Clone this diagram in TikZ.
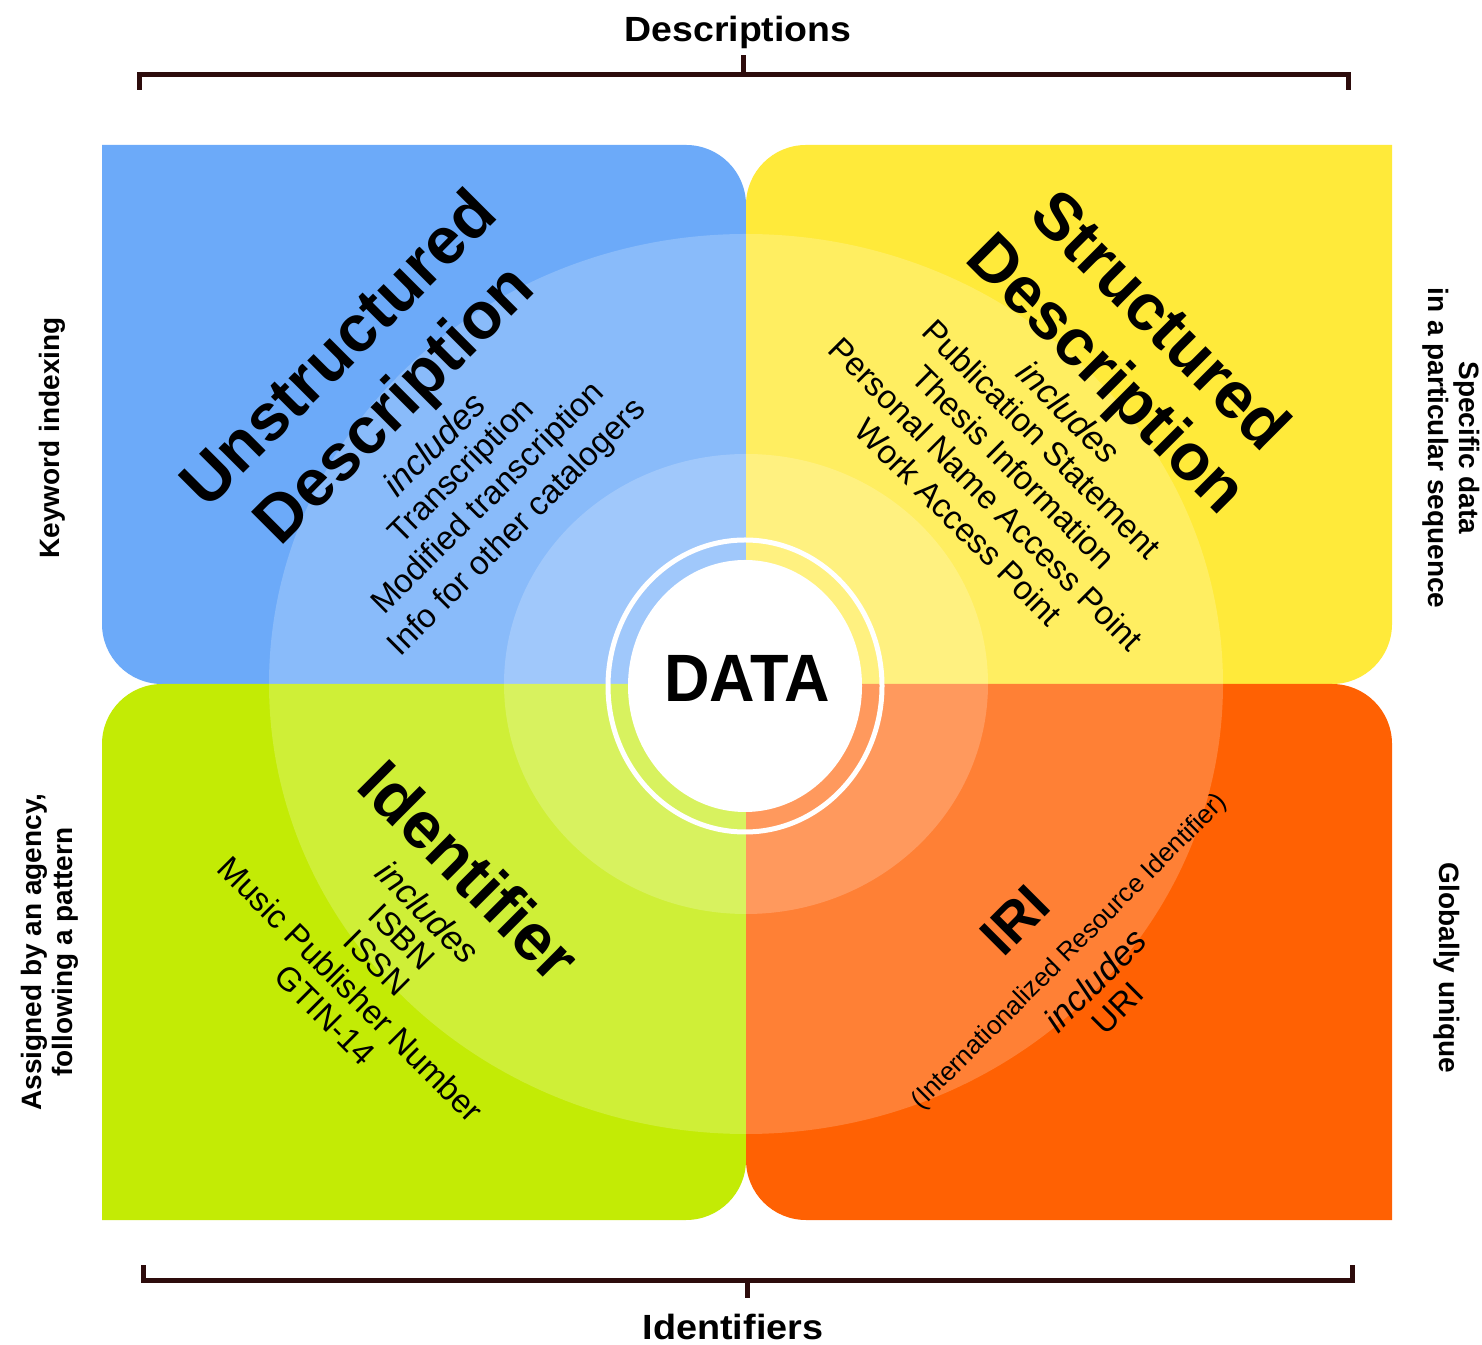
\documentclass[tikz,border=0pt]{standalone}
\usepackage{fontspec}
\setmainfont{Liberation Sans}
\definecolor{qblue}{RGB}{108,170,249}
\definecolor{qyellow}{RGB}{255,234,58}
\definecolor{qgreen}{RGB}{195,235,5}
\definecolor{qorange}{RGB}{255,97,3}
\definecolor{brk}{RGB}{45,12,12}
\tikzset{
  hdr/.style={font=\fontsize{66}{70}\selectfont\bfseries, inner sep=0pt},
  irihdr/.style={font=\fontsize{55}{60}\selectfont\bfseries, inner sep=0pt},
  itm/.style={font=\fontsize{33}{36}\selectfont, inner sep=0pt},
  smallitm/.style={font=\fontsize{26}{28}\selectfont, inner sep=0pt},
  inc/.style={font=\fontsize{35}{38}\selectfont\itshape, inner sep=0pt},
  side/.style={font=\fontsize{28}{31}\selectfont\bfseries, align=center, inner sep=0pt},
  brace/.style={line width=5pt, draw=brk},
  title/.style={font=\fontsize{35}{38}\selectfont\bfseries, inner sep=0pt, anchor=base},
  overlay/.style={fill=white, fill opacity=0.2},
}
\begin{document}
\begin{tikzpicture}[x=1pt,y=1pt]
\useasboundingbox (0,0) rectangle (1482,1344);
\fill[white] (0,0) rectangle (1482,1344);

% quadrants
\fill[qblue] (102,1199) -- (686,1199) arc[start angle=90,end angle=0,radius=60] -- (746,660) -- (162,660) arc[start angle=270,end angle=180,radius=60] -- cycle;
\fill[qyellow] (1392,1199) -- (1392,720) arc[start angle=0,end angle=-90,radius=60] -- (746,660) -- (746,1139) arc[start angle=180,end angle=90,radius=60] -- cycle;
\fill[qgreen] (102,124) -- (686,124) arc[start angle=-90,end angle=0,radius=60] -- (746,660) -- (162,660) arc[start angle=90,end angle=180,radius=60] -- cycle;
\fill[qorange] (1392,124) -- (1392,600) arc[start angle=0,end angle=90,radius=60] -- (746,660) -- (746,184) arc[start angle=180,end angle=270,radius=60] -- cycle;

% translucent rings
\fill[overlay] (746,660) ellipse [x radius=477, y radius=450];
\fill[overlay] (746,660) ellipse [x radius=242, y radius=230];

% centre
\draw[white, line width=5pt] (745,658) ellipse [x radius=137, y radius=146];
\fill[white] (745,658) ellipse [x radius=117, y radius=126];
\node[font=\fontsize{67}{70}\selectfont\bfseries, inner sep=0pt] (data) at (747,666) {\scalebox{0.94}[1]{DATA}};

% brackets
\coordinate (tl) at (139,1254); \coordinate (tr) at (1348,1254);
\coordinate (tm) at (743,1269); \coordinate (tmt) at (743,1289);
\draw[brace] (tl) -- (139,1269) -- (1348,1269) -- (tr);
\draw[brace] (tm) -- (tmt);
\node[title] (desc) at (738,1302) {\scalebox{1.07}[1]{Descriptions}};

\coordinate (bl) at (143,79); \coordinate (br) at (1352,79);
\coordinate (bm) at (747,64); \coordinate (bmb) at (747,46);
\draw[brace] (bl) -- (143,64) -- (1352,64) -- (br);
\draw[brace] (bm) -- (bmb);
\node[title] (ident) at (733,5) {\scalebox{1.08}[1]{Identifiers}};

% side labels
\node[side, rotate=90] (kw) at (52,906) {Keyword indexing};
\node[side, rotate=90] (assig) at (50,392) {Assigned by an agency,\\following a pattern};
\node[side, rotate=-90] (spec) at (1451,896) {Specific data\\in a particular sequence};
\node[side, rotate=-90] (glob) at (1447,376) {Globally unique};

% blue quadrant
\node[hdr, rotate=45] (ub1) at (337,997) {Unstructured};
\node[hdr, rotate=45] (ub2) at (397,937) {Description};
\node[inc, rotate=45] (ubi) at (434,900) {includes};
\node[itm, rotate=45] (ub3) at (462,872) {Transcription};
\node[itm, rotate=45] (ub4) at (489,845) {Modified transcription};
\node[itm, rotate=45] (ub5) at (518,816) {Info for other catalogers};

% yellow quadrant
\node[hdr, rotate=-45] (sd1) at (1162,1025) {Structured};
\node[hdr, rotate=-45] (sd2) at (1104,967) {Description};
\node[inc, rotate=-45] (sdi) at (1069,932) {includes};
\node[itm, rotate=-45] (sd3) at (1042,905) {Publication Statement};
\node[itm, rotate=-45] (sd4) at (1014,877) {Thesis Information};
\node[itm, rotate=-45] (sd5) at (986,850) {Personal Name Access Point};
\node[itm, rotate=-45] (sd6) at (959,822) {Work Access Point};

% green quadrant
\node[hdr, rotate=-45] (id1) at (470,474) {Identifier};
\node[inc, rotate=-45] (idi) at (428,432) {includes};
\node[itm, rotate=-45] (id2) at (402,407) {ISBN};
\node[itm, rotate=-45] (id3) at (377,381) {ISSN};
\node[itm, rotate=-45] (id4) at (351,355) {Music Publisher Number};
\node[itm, rotate=-45] (id5) at (325,329) {GTIN-14};

% orange quadrant
\node[irihdr, rotate=45] (iri1) at (1015,424) {IRI};
\node[smallitm, rotate=45] (iri2) at (1070,392) {(Internationalized Resource Identifier)};
\node[inc, rotate=45] (irii) at (1095,364) {includes};
\node[itm, rotate=45] (iri3) at (1118,336) {URI};
\end{tikzpicture}
\end{document}
